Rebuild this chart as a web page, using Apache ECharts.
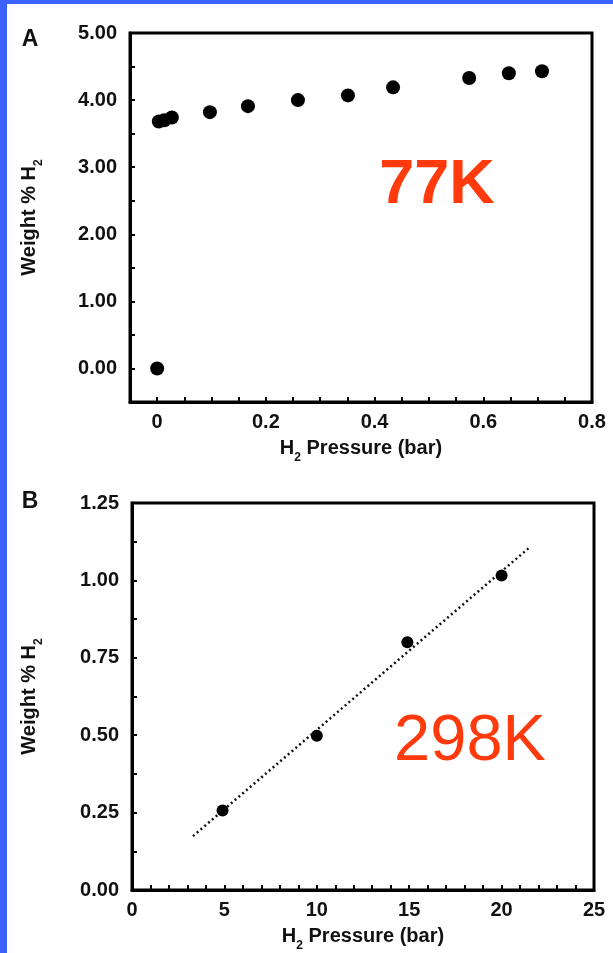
<!DOCTYPE html>
<html><head><meta charset="utf-8">
<script src="https://cdn.jsdelivr.net/npm/echarts@6/dist/echarts.min.js"></script>
<style>html,body{margin:0;padding:0;background:#fff}#c{width:613px;height:953px}</style>
</head><body><div id="c"></div>
<script>
// Panel A (77 K)
const pressureA = [0.0, 0.003, 0.013, 0.027, 0.097, 0.167, 0.259, 0.351, 0.434, 0.574, 0.647, 0.708];
const weightA   = [0.0, 3.68, 3.70, 3.74, 3.82, 3.91, 4.00, 4.07, 4.19, 4.33, 4.40, 4.43];
// Panel B (298 K)
const pressureB = [4.9, 10.0, 14.9, 20.0];
const weightB   = [0.257, 0.498, 0.80, 1.016];
const fitX = [3.3, 21.5];
const fitY = [0.174, 1.106];
const yTicksA = ['0.00','1.00','2.00','3.00','4.00','5.00'];
const xTicksA = ['0','0.2','0.4','0.6','0.8'];
const yTicksB = ['0.00','0.25','0.50','0.75','1.00','1.25'];
const xTicksB = ['0','5','10','15','20','25'];

const FONT = '"Liberation Sans", Arial, sans-serif';
const red = '#ff3a0c';

function pick(list, v){ const s = list.find(t => Math.abs(parseFloat(t) - v) < 1e-6); return s === undefined ? '' : s; }

const labelStyle = {color:'#111', fontFamily: FONT, fontWeight:'bold', fontSize:20};
const nameRich = {
  m:{fontFamily:FONT, fontWeight:'bold', fontSize:20, color:'#111', lineHeight:32, verticalAlign:'middle'},
  s:{fontFamily:FONT, fontWeight:'bold', fontSize:12, color:'#111', lineHeight:32, verticalAlign:'bottom'}
};
function axisCommon(){
  return {
    axisLine:{show:true, onZero:false, lineStyle:{color:'#000', width:3}},
    axisTick:{show:true, inside:true, length:5, lineStyle:{color:'#000', width:2}},
    splitLine:{show:false},
  };
}

const chart = echarts.init(document.getElementById('c'), null, {renderer:'canvas'});
chart.setOption({
  backgroundColor:'#ffffff',
  animation:false,
  grid:[
    {left:130, top:33, width:462, height:369, show:true, borderColor:'#000', borderWidth:3, containLabel:false},
    {left:132, top:503, width:462, height:389, show:true, borderColor:'#000', borderWidth:3, containLabel:false}
  ],
  xAxis:[
    Object.assign(axisCommon(), {
      gridIndex:0, type:'value', min:-0.05, max:0.8, interval:0.05,
      axisLabel:Object.assign({}, labelStyle, {margin:10, formatter:v => pick(xTicksA, v)}),
      name:'{m|H}{s|2}{m| Pressure (bar)}', nameLocation:'middle', nameGap:30,
      nameTextStyle:{rich:nameRich}
    }),
    Object.assign(axisCommon(), {
      gridIndex:1, type:'value', min:0, max:25, interval:1,
      axisLabel:Object.assign({}, labelStyle, {margin:10, formatter:v => pick(xTicksB, v)}),
      name:'{m|H}{s|2}{m| Pressure (bar)}', nameLocation:'middle', nameGap:30,
      nameTextStyle:{rich:nameRich}
    })
  ],
  yAxis:[
    Object.assign(axisCommon(), {
      gridIndex:0, type:'value', min:-0.5, max:5, interval:0.5,
      axisLabel:Object.assign({}, labelStyle, {margin:13, formatter:v => pick(yTicksA, v)}),
      name:'{m|Weight % H}{s|2}', nameLocation:'middle', nameGap:85, nameRotate:90,
      nameTextStyle:{rich:nameRich}
    }),
    Object.assign(axisCommon(), {
      gridIndex:1, type:'value', min:0, max:1.25, interval:0.125,
      axisLabel:Object.assign({}, labelStyle, {margin:13, formatter:v => pick(yTicksB, v)}),
      name:'{m|Weight % H}{s|2}', nameLocation:'middle', nameGap:87, nameRotate:90,
      nameTextStyle:{rich:nameRich}
    })
  ],
  series:[
    {type:'scatter', xAxisIndex:0, yAxisIndex:0, symbol:'circle', symbolSize:14,
     itemStyle:{color:'#000', opacity:1}, data:pressureA.map((x,i)=>[x, weightA[i]])},
    {type:'line', xAxisIndex:1, yAxisIndex:1, showSymbol:false, symbol:'none',
     lineStyle:{color:'#111', width:2.5, type:[2,3]}, data:fitX.map((x,i)=>[x, fitY[i]]), z:2},
    {type:'scatter', xAxisIndex:1, yAxisIndex:1, symbol:'circle', symbolSize:12,
     itemStyle:{color:'#000', opacity:1}, data:pressureB.map((x,i)=>[x, weightB[i]]), z:3}
  ],
  graphic:[
    {type:'rect', shape:{x:0, y:0, width:7, height:953}, style:{fill:'#3b62fe'}, z:100},
    {type:'rect', shape:{x:0, y:0, width:613, height:4}, style:{fill:'#3b62fe'}, z:100},
    {type:'text', x:30, y:40, style:{text:'A', font:'bold 23px '+FONT, fill:'#111', textAlign:'center', align:'center', textVerticalAlign:'middle', verticalAlign:'middle'}},
    {type:'text', x:30, y:502, style:{text:'B', font:'bold 23px '+FONT, fill:'#111', textAlign:'center', align:'center', textVerticalAlign:'middle', verticalAlign:'middle'}},
    {type:'text', x:437, y:186, style:{text:'77K', font:'bold 63px '+FONT, fill:red, textAlign:'center', align:'center', textVerticalAlign:'middle', verticalAlign:'middle'}},
    {type:'text', x:470, y:742, style:{text:'298K', font:'65px '+FONT, fill:red, textAlign:'center', align:'center', textVerticalAlign:'middle', verticalAlign:'middle'}}
  ]
});
</script>
</body></html>
